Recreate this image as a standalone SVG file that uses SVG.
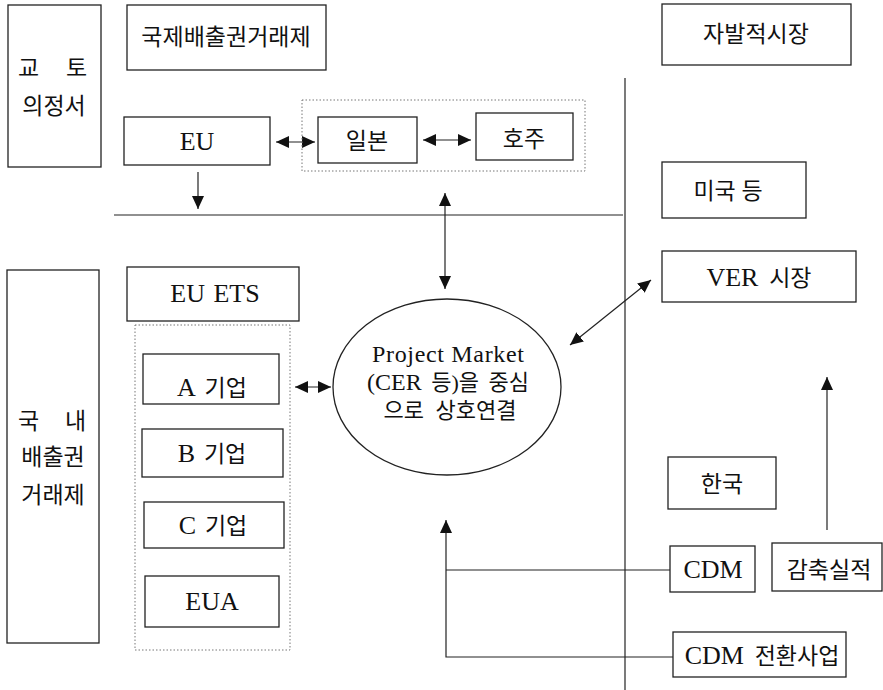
<svg xmlns="http://www.w3.org/2000/svg" width="883" height="690" viewBox="0 0 883 690">
<defs>
<marker id="ah" viewBox="0 0 13 12" refX="13" refY="6" markerWidth="13" markerHeight="12" markerUnits="userSpaceOnUse" orient="auto-start-reverse">
<path d="M0,0 L13,6 L0,12 Z" fill="#111"/>
</marker>
</defs>
<style>
.box{fill:#fff;stroke:#222;stroke-width:1.3}
.dot{fill:none;stroke:#777;stroke-width:1;stroke-dasharray:1.5 2}
.ln{fill:none;stroke:#222;stroke-width:1.2}
text{font-family:"Liberation Serif","Noto Sans CJK KR",serif;font-size:23px;fill:#111}
.c{text-anchor:middle}
.lat{font-size:26px}
.ell{font-size:22px}
.ell .lat{font-size:24px}
</style>
<rect width="883" height="690" fill="#fff"/>

<g id="connectors">
<line class="ln" x1="114" y1="215" x2="623" y2="215"/>
<line class="ln" x1="625" y1="78" x2="625" y2="690"/>
<line class="ln" x1="276" y1="142" x2="315" y2="142" marker-start="url(#ah)" marker-end="url(#ah)"/>
<line class="ln" x1="423" y1="140" x2="471" y2="140" marker-start="url(#ah)" marker-end="url(#ah)"/>
<line class="ln" x1="198" y1="172" x2="198" y2="209" marker-end="url(#ah)"/>
<line class="ln" x1="445" y1="193" x2="445" y2="289" marker-start="url(#ah)" marker-end="url(#ah)"/>
<line class="ln" x1="295" y1="387" x2="331" y2="387" marker-start="url(#ah)" marker-end="url(#ah)"/>
<line class="ln" x1="570" y1="345" x2="651" y2="280" marker-start="url(#ah)" marker-end="url(#ah)"/>
<line class="ln" x1="827" y1="530" x2="827" y2="377" marker-end="url(#ah)"/>
<line class="ln" x1="670" y1="570" x2="446" y2="570"/>
<polyline class="ln" points="673,657 446,657 446,520" marker-end="url(#ah)"/>
</g>

<g id="kyoto">
<rect class="box" x="8" y="5" width="93" height="162"/>
<text y="76"><tspan x="18">교</tspan><tspan x="66">토</tspan></text>
<text class="c" x="54" y="114">의정서</text>
</g>
<g id="intl-ets">
<rect class="box" x="127" y="5" width="199" height="65"/>
<text class="c" x="226" y="45">국제배출권거래제</text>
</g>
<g id="voluntary">
<rect class="box" x="662" y="4" width="189" height="61"/>
<text class="c" x="756" y="42">자발적시장</text>
</g>
<g id="eu">
<rect class="box" x="124" y="117" width="146" height="48"/>
<text class="c lat" x="197" y="150">EU</text>
</g>
<g id="japan-australia-group">
<rect class="dot" x="302" y="100" width="283" height="71"/>
</g>
<g id="japan">
<rect class="box" x="318" y="117" width="99" height="46"/>
<text class="c" x="367" y="149">일본</text>
</g>
<g id="australia">
<rect class="box" x="476" y="113" width="97" height="47"/>
<text class="c" x="524" y="147">호주</text>
</g>
<g id="usa">
<rect class="box" x="662" y="162" width="144" height="56"/>
<text class="c" x="728" y="199">미국 등</text>
</g>
<g id="eu-ets">
<rect class="box" x="127" y="267" width="172" height="54"/>
<text class="c lat" x="215" y="302" word-spacing="2">EU ETS</text>
</g>
<g id="domestic">
<rect class="box" x="7" y="270" width="92" height="373"/>
<text y="429"><tspan x="18">국</tspan><tspan x="65">내</tspan></text>
<text class="c" x="53" y="465">배출권</text>
<text class="c" x="53" y="503">거래제</text>
</g>
<g id="eu-ets-group">
<rect class="dot" x="135" y="325" width="155" height="325"/>
</g>
<g id="company-a">
<rect class="box" x="143" y="354" width="136" height="50"/>
<text class="c" x="212" y="396" word-spacing="3"><tspan class="lat">A</tspan> 기업</text>
</g>
<g id="company-b">
<rect class="box" x="142" y="429" width="141" height="48"/>
<text class="c" x="212" y="462" word-spacing="3"><tspan class="lat">B</tspan> 기업</text>
</g>
<g id="company-c">
<rect class="box" x="144" y="502" width="140" height="46"/>
<text class="c" x="213" y="534" word-spacing="3"><tspan class="lat">C</tspan> 기업</text>
</g>
<g id="eua">
<rect class="box" x="145" y="576" width="134" height="51"/>
<text class="c lat" x="212" y="610">EUA</text>
</g>
<g id="project-market">
<ellipse class="box" cx="447" cy="387" rx="114" ry="88"/>
<text class="c ell" x="448" y="362"><tspan class="lat" textLength="152" lengthAdjust="spacing">Project Market</tspan></text>
<text class="c ell" x="448" y="390" word-spacing="4"><tspan class="lat">(CER</tspan> 등)을 중심</text>
<text class="c ell" x="450" y="418" word-spacing="6">으로 상호연결</text>
</g>
<g id="ver">
<rect class="box" x="662" y="251" width="194" height="51"/>
<text class="c" x="759" y="286" word-spacing="5"><tspan class="lat">VER</tspan> 시장</text>
</g>
<g id="korea">
<rect class="box" x="668" y="457" width="108" height="52"/>
<text class="c" x="722" y="492">한국</text>
</g>
<g id="cdm">
<rect class="box" x="670" y="546" width="85" height="46"/>
<text class="c lat" x="713" y="578">CDM</text>
</g>
<g id="reduction">
<rect class="box" x="772" y="543" width="110" height="48"/>
<text class="c" x="829" y="578">감축실적</text>
</g>
<g id="cdm-conversion">
<rect class="box" x="673" y="632" width="173" height="45"/>
<text class="c" x="762" y="664" word-spacing="5"><tspan class="lat">CDM</tspan> 전환사업</text>
</g>
</svg>
